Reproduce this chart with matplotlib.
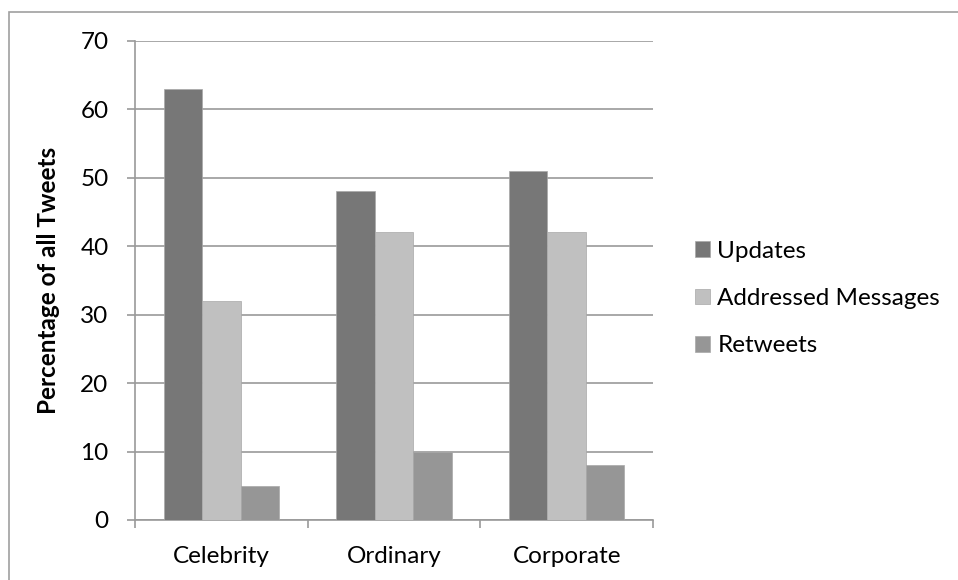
import matplotlib
matplotlib.use("Agg")
import matplotlib.pyplot as plt
from matplotlib.patches import Rectangle
import numpy as np

categories = ["Celebrity", "Ordinary", "Corporate"]
series_names = ["Updates", "Addressed Messages", "Retweets"]
updates = [63, 48, 51]
addressed = [32, 42, 42]
retweets = [5, 10, 8]
yticks = [0, 10, 20, 30, 40, 50, 60, 70]

colors = ["#777777", "#c0c0c0", "#969696"]
axis_gray = "#9a9a9a"

plt.rcParams['font.family'] = ['Lato', 'DejaVu Sans']
FS = 17.5

W, H = 958, 580
fig = plt.figure(figsize=(W / 100, H / 100), dpi=100)

# outer chart border (cropped at right/bottom)
fig.patches.append(Rectangle((8.5 / W, -0.05), 1.1, 1 - 11.5 / H + 0.05,
                             transform=fig.transFigure, fill=False,
                             edgecolor="#a0a0a0", linewidth=1.2))

left, right = 135 / W, 653 / W
bottom, top = (H - 520) / H, (H - 40.7) / H
ax = fig.add_axes([left, bottom, right - left, top - bottom])

x = np.arange(len(categories))
bw = 1 / 4.5
for i, (vals, name) in enumerate(zip([updates, addressed, retweets], series_names)):
    ax.bar(x + (i - 1) * bw, vals, width=bw, color=colors[i], label=name,
           edgecolor="#a8a8a8", linewidth=0.5, zorder=3)

ax.set_xlim(-0.5, len(categories) - 0.5)
ax.set_ylim(0, 70)
ax.set_yticks(yticks)
ax.set_yticklabels([str(v) for v in yticks])
ax.yaxis.grid(True, color=axis_gray, linewidth=1.2, zorder=0)
ax.set_axisbelow(True)

ax.set_xticks(x)
ax.set_xticklabels(categories)
ax.set_xticks(np.arange(len(categories) + 1) - 0.5, minor=True)
ax.tick_params(axis='x', which='major', length=0, pad=19, labelsize=FS)
ax.tick_params(axis='x', which='minor', length=6, width=1.2, color=axis_gray, direction='out')
ax.tick_params(axis='y', which='major', length=6, width=1.2, color=axis_gray,
               direction='out', pad=13, labelsize=FS)

for s in ["top", "right"]:
    ax.spines[s].set_visible(False)
for s in ["left", "bottom"]:
    ax.spines[s].set_color(axis_gray)
    ax.spines[s].set_linewidth(1.2)

ax.set_ylabel("Percentage of all Tweets", fontsize=FS, fontweight='bold')
ax.yaxis.set_label_coords((60 - 135) / 518, 0.5)

leg = ax.legend(loc='center left', bbox_to_anchor=(695 / W, 1 - 298.5 / H),
                bbox_transform=fig.transFigure, frameon=False, fontsize=FS,
                handlelength=0.62, handleheight=0.62, handletextpad=0.3,
                labelspacing=1.08, borderpad=0, borderaxespad=0)

fig.savefig("out.png", dpi=100, facecolor="white")
